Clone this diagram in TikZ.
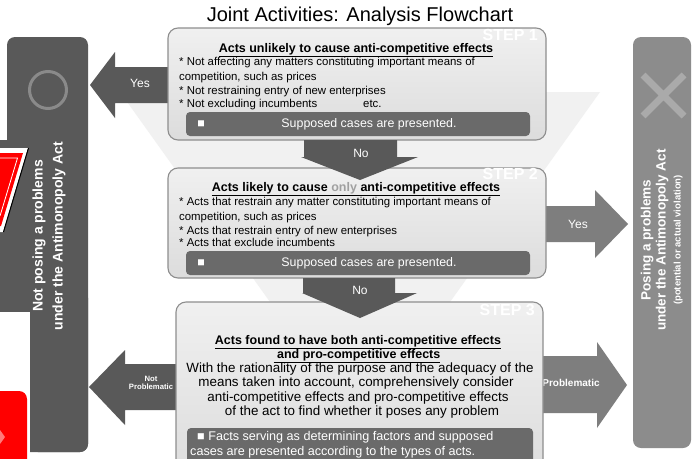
\documentclass[tikz,border=0pt]{standalone}
\usepackage{fontspec}
\setmainfont{Liberation Sans}
\definecolor{darkbox}{HTML}{595959}
\definecolor{midbox}{HTML}{8C8C8C}
\definecolor{barfill}{HTML}{6A6A6A}
\definecolor{stepborder}{HTML}{8E8E8E}
\definecolor{stepTop}{HTML}{F0F0F0}
\definecolor{stepBot}{HTML}{DCDCDC}
\definecolor{funnelgray}{HTML}{F1F1F1}
\definecolor{circlegray}{HTML}{8A8A8A}
\definecolor{xgray}{HTML}{AAAAAA}
\definecolor{onlygray}{HTML}{A0A0A0}
\definecolor{lightred}{HTML}{FF7A7A}
\begin{document}
\begin{tikzpicture}[x=1pt,y=-1pt,
  stepbox/.style={draw=stepborder, line width=1.1pt, rounded corners=10pt, top color=stepTop, bottom color=stepBot},
  barbox/.style={fill=barfill, rounded corners=4pt},
  bodyline/.style={font=\fontsize{11.4}{13}\selectfont, anchor=mid west, inner sep=0pt},
  steptitle/.style={font=\bfseries\fontsize{12.5}{14}\selectfont, anchor=mid, inner sep=0pt},
  stepthree/.style={font=\fontsize{13.4}{15}\selectfont, anchor=mid, inner sep=0pt},
  bartext/.style={font=\fontsize{12.4}{14}\selectfont, text=white, inner sep=0pt},
  steplabel/.style={font=\bfseries\fontsize{16}{18}\selectfont, text=white, anchor=mid east, inner sep=0pt},
  arrowtext/.style={font=\fontsize{12}{14}\selectfont, text=white, inner sep=0pt},
  sidetext/.style={rotate=90, text=white, inner sep=0pt, anchor=mid}
]
\useasboundingbox (0,0) rectangle (693,458);
\clip (0,0) rectangle (693,458);
\fill[white] (0,0) rectangle (693,458);

% background funnel
\fill[funnelgray] (120,92) -- (600,92) -- (360,428) -- cycle;

% title
\node[font=\fontsize{20}{24}\selectfont, inner sep=0pt] (title) at (360,16) {Joint Activities: Analysis Flowchart};

% left result box
\fill[darkbox, rounded corners=8pt] (7,37) rectangle (88,452);
\fill[darkbox] (0,140) rectangle (28,312);
\fill[white] (0,312) rectangle (29.5,458);
\fill[darkbox, rounded corners=8pt] (30,290) rectangle (88,452);
\node[circle, draw=circlegray, line width=3pt, minimum size=37pt, inner sep=0pt] (okmark) at (48,90) {};
\node[sidetext, font=\bfseries\fontsize{14}{16}\selectfont] (left1) at (40,236) {Not posing a problems};
\node[sidetext, font=\bfseries\fontsize{14}{16}\selectfont] (left2) at (60,236) {under the Antimonopoly Act};

% red fragments at left edge
\fill[white] (0,148) -- (28,148) -- (3,232) -- (0,232) -- cycle;
\draw[black, line width=1pt] (28.5,148) -- (3.5,232);
\fill[red] (0,153) -- (23,153) -- (1,226) -- (0,226) -- cycle;
\draw[white, line width=0.8pt] (0,158) -- (17.5,158) -- (0,216);
\fill[red, rounded corners=8pt] (-10,391) rectangle (27,470);
\fill[lightred] (0,430) -- (5,437) -- (0,444) -- cycle;

% right result box
\fill[midbox, rounded corners=8pt] (633,37) rectangle (691,448);
\draw[xgray, line width=7pt] (643,75) -- (684,116) (684,75) -- (643,116);
\node[sidetext, font=\bfseries\fontsize{13.5}{15}\selectfont] (right1) at (648,240) {Posing a problems};
\node[sidetext, font=\bfseries\fontsize{13.5}{15}\selectfont] (right2) at (663,240) {under the Antimonopoly Act};
\node[sidetext, font=\bfseries\fontsize{9.5}{11}\selectfont] (right3) at (678,240) {(potential or actual violation)};

% side arrows (behind the step boxes)
\fill[darkbox] (170,67) -- (115,67) -- (115,52) -- (90,85) -- (115,118) -- (115,103) -- (170,103) -- cycle;
\node[arrowtext] (yes1) at (140,83) {Yes};
\fill[midbox!90!black] (544,206) -- (595,206) -- (595,190) -- (628,224) -- (595,258) -- (595,242) -- (544,242) -- cycle;
\node[arrowtext] (yes2) at (578,224) {Yes};
\fill[darkbox] (178,364) -- (125,364) -- (125,350) -- (89,387) -- (125,425) -- (125,410) -- (178,410) -- cycle;
\node[font=\bfseries\fontsize{7.7}{9}\selectfont, text=white, align=center, inner sep=0pt] (notprob) at (151,383) {Not\\[-1pt]Problematic};
\fill[midbox!90!black] (540,356) -- (597,356) -- (597,342) -- (627,385) -- (597,428) -- (597,413) -- (540,413) -- cycle;
\node[font=\bfseries\fontsize{10}{12}\selectfont, text=white, inner sep=0pt] (prob) at (571,383) {Problematic};

% STEP 1
\path[stepbox] (168,28) rectangle (546,140);
\node[steplabel] (s1lab) at (538,38) {STEP 1};
\node[steptitle] (s1title) at (356,50) {\underline{Acts unlikely to cause anti-competitive effects}};
\node[bodyline] (s1a) at (179,63) {* Not affecting any matters constituting important means of};
\node[bodyline] (s1b) at (179,77.5) {competition, such as prices};
\node[bodyline] (s1c) at (179,91.5) {* Not restraining entry of new enterprises};
\node[bodyline] (s1d) at (179,104.5) {* Not excluding incumbents};
\node[bodyline] (s1e) at (363,104.5) {etc.};
\fill[barbox] (186,112) rectangle (530,136);
\node[bartext] (s1sq) at (201,124) {■};
\node[bartext] (s1bar) at (369,124) {Supposed cases are presented.};

% STEP 2
\path[stepbox] (168,168) rectangle (546,278);
\node[steplabel] (s2lab) at (538,177) {STEP 2};
\node[steptitle] (s2title) at (356,189) {\underline{Acts likely to cause \textcolor{onlygray}{only} anti-competitive effects}};
\node[bodyline] (s2a) at (179,203) {* Acts that restrain any matter constituting important means of};
\node[bodyline] (s2b) at (179,217.5) {competition, such as prices};
\node[bodyline] (s2c) at (179,231.5) {* Acts that restrain entry of new enterprises};
\node[bodyline] (s2d) at (179,244) {* Acts that exclude incumbents};
\fill[barbox] (186,251) rectangle (530,275);
\node[bartext] (s2sq) at (201,263) {■};
\node[bartext] (s2bar) at (369,263) {Supposed cases are presented.};

% STEP 3
\path[stepbox] (176,302) rectangle (543,480);
\node[steplabel] (s3lab) at (535,313) {STEP 3};
\node[steptitle] (s3t1) at (358,342) {\underline{Acts found to have both anti-competitive effects}};
\node[steptitle] (s3t2) at (357,356) {\underline{\ and pro-competitive effects}};
\node[stepthree] (s3a) at (360,370) {With the rationality of the purpose and the adequacy of the};
\node[stepthree] (s3b) at (356,384) {means taken into account, comprehensively consider};
\node[stepthree] (s3c) at (358,398.5) {anti-competitive effects and pro-competitive effects};
\node[stepthree] (s3d) at (362,413) {of the act to find whether it poses any problem};
\fill[barbox] (187,428) rectangle (533,475);
\node[bartext, font=\fontsize{12.6}{15}\selectfont, anchor=mid west] (s3bar1) at (197,438) {■ Facts serving as determining factors and supposed};
\node[bartext, font=\fontsize{12.6}{15}\selectfont, anchor=mid west] (s3bar2) at (190,453) {cases are presented according to the types of acts.};

% NO arrows (over the boxes)
\fill[darkbox] (304,140) -- (397,140) -- (397,157) -- (418,157) -- (360,180) -- (301,157) -- (304,157) -- cycle;
\node[arrowtext] (no1) at (361,153) {No};
\fill[darkbox] (303,278) -- (395,278) -- (395,293) -- (417,293) -- (360,318) -- (302,293) -- (303,293) -- cycle;
\node[arrowtext] (no2) at (360,290) {No};
\end{tikzpicture}
\end{document}
